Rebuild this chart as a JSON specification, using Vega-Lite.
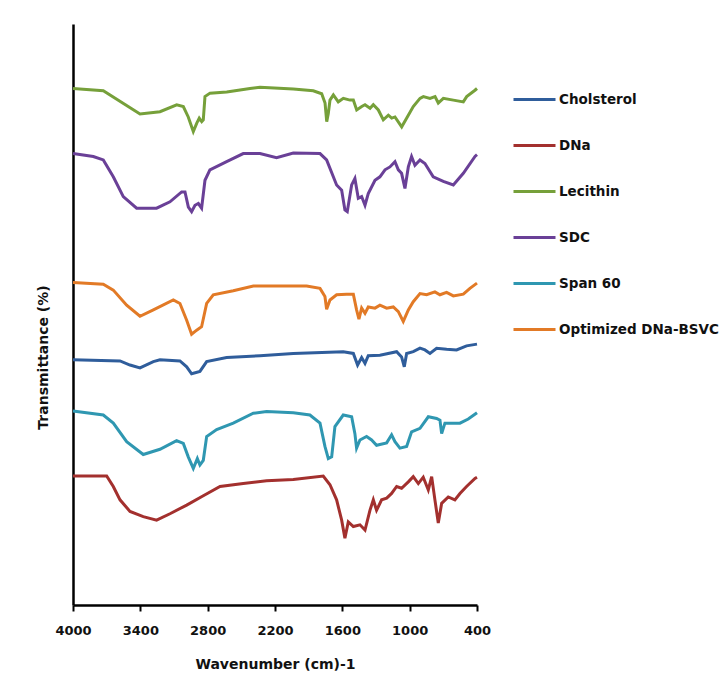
{
  "$schema": "https://vega.github.io/schema/vega-lite/v6.json",
  "width": 404,
  "height": 581,
  "autosize": {"type": "none"},
  "padding": {"left": 73, "top": 24, "right": 243, "bottom": 79},
  "background": "white",
  "config": {
    "view": {"stroke": null},
    "font": "DejaVu Sans"
  },
  "data": {
    "values": [
      {"sample": "Lecithin", "wavenumber": 4000, "transmittance": 88.9},
      {"sample": "Lecithin", "wavenumber": 3730, "transmittance": 88.5},
      {"sample": "Lecithin", "wavenumber": 3403, "transmittance": 84.5},
      {"sample": "Lecithin", "wavenumber": 3225, "transmittance": 84.9},
      {"sample": "Lecithin", "wavenumber": 3076, "transmittance": 86.1},
      {"sample": "Lecithin", "wavenumber": 3017, "transmittance": 85.8},
      {"sample": "Lecithin", "wavenumber": 2973, "transmittance": 84.0},
      {"sample": "Lecithin", "wavenumber": 2928, "transmittance": 81.5},
      {"sample": "Lecithin", "wavenumber": 2898, "transmittance": 82.9},
      {"sample": "Lecithin", "wavenumber": 2875, "transmittance": 83.8},
      {"sample": "Lecithin", "wavenumber": 2853, "transmittance": 83.2},
      {"sample": "Lecithin", "wavenumber": 2839, "transmittance": 83.5},
      {"sample": "Lecithin", "wavenumber": 2824, "transmittance": 87.5},
      {"sample": "Lecithin", "wavenumber": 2779, "transmittance": 88.1},
      {"sample": "Lecithin", "wavenumber": 2630, "transmittance": 88.3},
      {"sample": "Lecithin", "wavenumber": 2423, "transmittance": 88.9},
      {"sample": "Lecithin", "wavenumber": 2334, "transmittance": 89.1},
      {"sample": "Lecithin", "wavenumber": 2037, "transmittance": 88.8},
      {"sample": "Lecithin", "wavenumber": 1859, "transmittance": 88.5},
      {"sample": "Lecithin", "wavenumber": 1784, "transmittance": 88.0},
      {"sample": "Lecithin", "wavenumber": 1754, "transmittance": 86.4},
      {"sample": "Lecithin", "wavenumber": 1739, "transmittance": 83.2},
      {"sample": "Lecithin", "wavenumber": 1725, "transmittance": 84.6},
      {"sample": "Lecithin", "wavenumber": 1710, "transmittance": 86.9},
      {"sample": "Lecithin", "wavenumber": 1680, "transmittance": 87.8},
      {"sample": "Lecithin", "wavenumber": 1636, "transmittance": 86.6},
      {"sample": "Lecithin", "wavenumber": 1591, "transmittance": 87.2},
      {"sample": "Lecithin", "wavenumber": 1532, "transmittance": 86.9},
      {"sample": "Lecithin", "wavenumber": 1502, "transmittance": 86.9},
      {"sample": "Lecithin", "wavenumber": 1472, "transmittance": 85.2},
      {"sample": "Lecithin", "wavenumber": 1427, "transmittance": 85.8},
      {"sample": "Lecithin", "wavenumber": 1398, "transmittance": 86.1},
      {"sample": "Lecithin", "wavenumber": 1353, "transmittance": 85.5},
      {"sample": "Lecithin", "wavenumber": 1324, "transmittance": 86.1},
      {"sample": "Lecithin", "wavenumber": 1279, "transmittance": 85.2},
      {"sample": "Lecithin", "wavenumber": 1235, "transmittance": 83.5},
      {"sample": "Lecithin", "wavenumber": 1190, "transmittance": 84.3},
      {"sample": "Lecithin", "wavenumber": 1160, "transmittance": 83.8},
      {"sample": "Lecithin", "wavenumber": 1131, "transmittance": 84.0},
      {"sample": "Lecithin", "wavenumber": 1071, "transmittance": 82.3},
      {"sample": "Lecithin", "wavenumber": 1026, "transmittance": 83.8},
      {"sample": "Lecithin", "wavenumber": 968, "transmittance": 85.8},
      {"sample": "Lecithin", "wavenumber": 908, "transmittance": 87.2},
      {"sample": "Lecithin", "wavenumber": 878, "transmittance": 87.5},
      {"sample": "Lecithin", "wavenumber": 819, "transmittance": 87.2},
      {"sample": "Lecithin", "wavenumber": 774, "transmittance": 87.5},
      {"sample": "Lecithin", "wavenumber": 745, "transmittance": 86.4},
      {"sample": "Lecithin", "wavenumber": 700, "transmittance": 87.2},
      {"sample": "Lecithin", "wavenumber": 611, "transmittance": 86.9},
      {"sample": "Lecithin", "wavenumber": 522, "transmittance": 86.6},
      {"sample": "Lecithin", "wavenumber": 492, "transmittance": 87.5},
      {"sample": "Lecithin", "wavenumber": 418, "transmittance": 88.6},
      {"sample": "Lecithin", "wavenumber": 400, "transmittance": 88.9},

      {"sample": "SDC", "wavenumber": 4000, "transmittance": 77.7},
      {"sample": "SDC", "wavenumber": 3819, "transmittance": 77.2},
      {"sample": "SDC", "wavenumber": 3730, "transmittance": 76.6},
      {"sample": "SDC", "wavenumber": 3641, "transmittance": 73.7},
      {"sample": "SDC", "wavenumber": 3552, "transmittance": 70.3},
      {"sample": "SDC", "wavenumber": 3433, "transmittance": 68.3},
      {"sample": "SDC", "wavenumber": 3255, "transmittance": 68.3},
      {"sample": "SDC", "wavenumber": 3136, "transmittance": 69.4},
      {"sample": "SDC", "wavenumber": 3032, "transmittance": 71.1},
      {"sample": "SDC", "wavenumber": 3002, "transmittance": 71.1},
      {"sample": "SDC", "wavenumber": 2972, "transmittance": 68.5},
      {"sample": "SDC", "wavenumber": 2943, "transmittance": 67.7},
      {"sample": "SDC", "wavenumber": 2913, "transmittance": 68.8},
      {"sample": "SDC", "wavenumber": 2883, "transmittance": 69.1},
      {"sample": "SDC", "wavenumber": 2854, "transmittance": 68.3},
      {"sample": "SDC", "wavenumber": 2824, "transmittance": 73.1},
      {"sample": "SDC", "wavenumber": 2780, "transmittance": 74.9},
      {"sample": "SDC", "wavenumber": 2631, "transmittance": 76.3},
      {"sample": "SDC", "wavenumber": 2483, "transmittance": 77.7},
      {"sample": "SDC", "wavenumber": 2334, "transmittance": 77.7},
      {"sample": "SDC", "wavenumber": 2186, "transmittance": 77.0},
      {"sample": "SDC", "wavenumber": 2037, "transmittance": 77.8},
      {"sample": "SDC", "wavenumber": 1799, "transmittance": 77.7},
      {"sample": "SDC", "wavenumber": 1740, "transmittance": 76.6},
      {"sample": "SDC", "wavenumber": 1651, "transmittance": 72.3},
      {"sample": "SDC", "wavenumber": 1606, "transmittance": 71.4},
      {"sample": "SDC", "wavenumber": 1577, "transmittance": 68.0},
      {"sample": "SDC", "wavenumber": 1556, "transmittance": 67.7},
      {"sample": "SDC", "wavenumber": 1517, "transmittance": 72.3},
      {"sample": "SDC", "wavenumber": 1488, "transmittance": 73.4},
      {"sample": "SDC", "wavenumber": 1458, "transmittance": 70.0},
      {"sample": "SDC", "wavenumber": 1428, "transmittance": 70.3},
      {"sample": "SDC", "wavenumber": 1398, "transmittance": 68.8},
      {"sample": "SDC", "wavenumber": 1369, "transmittance": 70.8},
      {"sample": "SDC", "wavenumber": 1309, "transmittance": 73.1},
      {"sample": "SDC", "wavenumber": 1265, "transmittance": 73.7},
      {"sample": "SDC", "wavenumber": 1220, "transmittance": 74.9},
      {"sample": "SDC", "wavenumber": 1176, "transmittance": 75.4},
      {"sample": "SDC", "wavenumber": 1131, "transmittance": 76.3},
      {"sample": "SDC", "wavenumber": 1101, "transmittance": 74.9},
      {"sample": "SDC", "wavenumber": 1072, "transmittance": 74.3},
      {"sample": "SDC", "wavenumber": 1042, "transmittance": 71.7},
      {"sample": "SDC", "wavenumber": 1012, "transmittance": 75.4},
      {"sample": "SDC", "wavenumber": 983, "transmittance": 77.2},
      {"sample": "SDC", "wavenumber": 953, "transmittance": 75.7},
      {"sample": "SDC", "wavenumber": 908, "transmittance": 76.6},
      {"sample": "SDC", "wavenumber": 864, "transmittance": 76.0},
      {"sample": "SDC", "wavenumber": 790, "transmittance": 73.7},
      {"sample": "SDC", "wavenumber": 700, "transmittance": 72.9},
      {"sample": "SDC", "wavenumber": 611, "transmittance": 72.3},
      {"sample": "SDC", "wavenumber": 522, "transmittance": 74.3},
      {"sample": "SDC", "wavenumber": 418, "transmittance": 77.2},
      {"sample": "SDC", "wavenumber": 400, "transmittance": 77.5},

      {"sample": "Optimized DNa-BSVC", "wavenumber": 4000, "transmittance": 55.5},
      {"sample": "Optimized DNa-BSVC", "wavenumber": 3730, "transmittance": 55.2},
      {"sample": "Optimized DNa-BSVC", "wavenumber": 3641, "transmittance": 54.2},
      {"sample": "Optimized DNa-BSVC", "wavenumber": 3522, "transmittance": 51.6},
      {"sample": "Optimized DNa-BSVC", "wavenumber": 3403, "transmittance": 49.7},
      {"sample": "Optimized DNa-BSVC", "wavenumber": 3284, "transmittance": 50.8},
      {"sample": "Optimized DNa-BSVC", "wavenumber": 3106, "transmittance": 52.5},
      {"sample": "Optimized DNa-BSVC", "wavenumber": 3047, "transmittance": 51.9},
      {"sample": "Optimized DNa-BSVC", "wavenumber": 2987, "transmittance": 49.0},
      {"sample": "Optimized DNa-BSVC", "wavenumber": 2943, "transmittance": 46.6},
      {"sample": "Optimized DNa-BSVC", "wavenumber": 2898, "transmittance": 47.3},
      {"sample": "Optimized DNa-BSVC", "wavenumber": 2854, "transmittance": 47.9},
      {"sample": "Optimized DNa-BSVC", "wavenumber": 2809, "transmittance": 51.9},
      {"sample": "Optimized DNa-BSVC", "wavenumber": 2750, "transmittance": 53.4},
      {"sample": "Optimized DNa-BSVC", "wavenumber": 2572, "transmittance": 54.1},
      {"sample": "Optimized DNa-BSVC", "wavenumber": 2393, "transmittance": 54.9},
      {"sample": "Optimized DNa-BSVC", "wavenumber": 1918, "transmittance": 54.9},
      {"sample": "Optimized DNa-BSVC", "wavenumber": 1799, "transmittance": 54.5},
      {"sample": "Optimized DNa-BSVC", "wavenumber": 1755, "transmittance": 53.1},
      {"sample": "Optimized DNa-BSVC", "wavenumber": 1740, "transmittance": 50.9},
      {"sample": "Optimized DNa-BSVC", "wavenumber": 1710, "transmittance": 52.5},
      {"sample": "Optimized DNa-BSVC", "wavenumber": 1651, "transmittance": 53.4},
      {"sample": "Optimized DNa-BSVC", "wavenumber": 1562, "transmittance": 53.5},
      {"sample": "Optimized DNa-BSVC", "wavenumber": 1502, "transmittance": 53.5},
      {"sample": "Optimized DNa-BSVC", "wavenumber": 1473, "transmittance": 50.8},
      {"sample": "Optimized DNa-BSVC", "wavenumber": 1452, "transmittance": 49.2},
      {"sample": "Optimized DNa-BSVC", "wavenumber": 1428, "transmittance": 51.1},
      {"sample": "Optimized DNa-BSVC", "wavenumber": 1398, "transmittance": 50.2},
      {"sample": "Optimized DNa-BSVC", "wavenumber": 1369, "transmittance": 51.3},
      {"sample": "Optimized DNa-BSVC", "wavenumber": 1309, "transmittance": 51.1},
      {"sample": "Optimized DNa-BSVC", "wavenumber": 1265, "transmittance": 51.6},
      {"sample": "Optimized DNa-BSVC", "wavenumber": 1205, "transmittance": 51.1},
      {"sample": "Optimized DNa-BSVC", "wavenumber": 1146, "transmittance": 51.3},
      {"sample": "Optimized DNa-BSVC", "wavenumber": 1101, "transmittance": 50.5},
      {"sample": "Optimized DNa-BSVC", "wavenumber": 1057, "transmittance": 48.8},
      {"sample": "Optimized DNa-BSVC", "wavenumber": 1012, "transmittance": 50.8},
      {"sample": "Optimized DNa-BSVC", "wavenumber": 968, "transmittance": 52.2},
      {"sample": "Optimized DNa-BSVC", "wavenumber": 908, "transmittance": 53.6},
      {"sample": "Optimized DNa-BSVC", "wavenumber": 849, "transmittance": 53.4},
      {"sample": "Optimized DNa-BSVC", "wavenumber": 775, "transmittance": 53.9},
      {"sample": "Optimized DNa-BSVC", "wavenumber": 730, "transmittance": 53.4},
      {"sample": "Optimized DNa-BSVC", "wavenumber": 671, "transmittance": 53.8},
      {"sample": "Optimized DNa-BSVC", "wavenumber": 611, "transmittance": 53.2},
      {"sample": "Optimized DNa-BSVC", "wavenumber": 522, "transmittance": 53.5},
      {"sample": "Optimized DNa-BSVC", "wavenumber": 463, "transmittance": 54.5},
      {"sample": "Optimized DNa-BSVC", "wavenumber": 400, "transmittance": 55.4},

      {"sample": "Cholsterol", "wavenumber": 4000, "transmittance": 42.2},
      {"sample": "Cholsterol", "wavenumber": 3581, "transmittance": 42.0},
      {"sample": "Cholsterol", "wavenumber": 3492, "transmittance": 41.3},
      {"sample": "Cholsterol", "wavenumber": 3403, "transmittance": 40.8},
      {"sample": "Cholsterol", "wavenumber": 3284, "transmittance": 41.9},
      {"sample": "Cholsterol", "wavenumber": 3225, "transmittance": 42.2},
      {"sample": "Cholsterol", "wavenumber": 3047, "transmittance": 42.0},
      {"sample": "Cholsterol", "wavenumber": 2987, "transmittance": 41.0},
      {"sample": "Cholsterol", "wavenumber": 2943, "transmittance": 39.8},
      {"sample": "Cholsterol", "wavenumber": 2869, "transmittance": 40.2},
      {"sample": "Cholsterol", "wavenumber": 2809, "transmittance": 41.9},
      {"sample": "Cholsterol", "wavenumber": 2631, "transmittance": 42.6},
      {"sample": "Cholsterol", "wavenumber": 2334, "transmittance": 42.9},
      {"sample": "Cholsterol", "wavenumber": 2037, "transmittance": 43.3},
      {"sample": "Cholsterol", "wavenumber": 1592, "transmittance": 43.6},
      {"sample": "Cholsterol", "wavenumber": 1502, "transmittance": 43.3},
      {"sample": "Cholsterol", "wavenumber": 1464, "transmittance": 41.3},
      {"sample": "Cholsterol", "wavenumber": 1428, "transmittance": 42.6},
      {"sample": "Cholsterol", "wavenumber": 1398, "transmittance": 41.6},
      {"sample": "Cholsterol", "wavenumber": 1369, "transmittance": 42.9},
      {"sample": "Cholsterol", "wavenumber": 1265, "transmittance": 43.0},
      {"sample": "Cholsterol", "wavenumber": 1116, "transmittance": 43.6},
      {"sample": "Cholsterol", "wavenumber": 1072, "transmittance": 42.7},
      {"sample": "Cholsterol", "wavenumber": 1048, "transmittance": 41.0},
      {"sample": "Cholsterol", "wavenumber": 1027, "transmittance": 43.3},
      {"sample": "Cholsterol", "wavenumber": 968, "transmittance": 43.6},
      {"sample": "Cholsterol", "wavenumber": 908, "transmittance": 44.2},
      {"sample": "Cholsterol", "wavenumber": 864, "transmittance": 43.9},
      {"sample": "Cholsterol", "wavenumber": 819, "transmittance": 43.3},
      {"sample": "Cholsterol", "wavenumber": 760, "transmittance": 44.2},
      {"sample": "Cholsterol", "wavenumber": 671, "transmittance": 44.0},
      {"sample": "Cholsterol", "wavenumber": 582, "transmittance": 43.9},
      {"sample": "Cholsterol", "wavenumber": 493, "transmittance": 44.6},
      {"sample": "Cholsterol", "wavenumber": 400, "transmittance": 44.9},

      {"sample": "Span 60", "wavenumber": 4000, "transmittance": 33.4},
      {"sample": "Span 60", "wavenumber": 3730, "transmittance": 32.7},
      {"sample": "Span 60", "wavenumber": 3641, "transmittance": 31.3},
      {"sample": "Span 60", "wavenumber": 3522, "transmittance": 28.1},
      {"sample": "Span 60", "wavenumber": 3374, "transmittance": 25.9},
      {"sample": "Span 60", "wavenumber": 3225, "transmittance": 26.8},
      {"sample": "Span 60", "wavenumber": 3077, "transmittance": 28.3},
      {"sample": "Span 60", "wavenumber": 3017, "transmittance": 27.8},
      {"sample": "Span 60", "wavenumber": 2973, "transmittance": 25.5},
      {"sample": "Span 60", "wavenumber": 2928, "transmittance": 23.5},
      {"sample": "Span 60", "wavenumber": 2892, "transmittance": 25.2},
      {"sample": "Span 60", "wavenumber": 2869, "transmittance": 24.1},
      {"sample": "Span 60", "wavenumber": 2839, "transmittance": 24.9},
      {"sample": "Span 60", "wavenumber": 2809, "transmittance": 29.0},
      {"sample": "Span 60", "wavenumber": 2720, "transmittance": 30.2},
      {"sample": "Span 60", "wavenumber": 2572, "transmittance": 31.3},
      {"sample": "Span 60", "wavenumber": 2393, "transmittance": 33.0},
      {"sample": "Span 60", "wavenumber": 2275, "transmittance": 33.3},
      {"sample": "Span 60", "wavenumber": 2037, "transmittance": 33.1},
      {"sample": "Span 60", "wavenumber": 1889, "transmittance": 32.7},
      {"sample": "Span 60", "wavenumber": 1799, "transmittance": 31.3},
      {"sample": "Span 60", "wavenumber": 1755, "transmittance": 27.3},
      {"sample": "Span 60", "wavenumber": 1725, "transmittance": 25.2},
      {"sample": "Span 60", "wavenumber": 1695, "transmittance": 25.5},
      {"sample": "Span 60", "wavenumber": 1666, "transmittance": 30.7},
      {"sample": "Span 60", "wavenumber": 1592, "transmittance": 32.7},
      {"sample": "Span 60", "wavenumber": 1517, "transmittance": 32.4},
      {"sample": "Span 60", "wavenumber": 1488, "transmittance": 29.5},
      {"sample": "Span 60", "wavenumber": 1473, "transmittance": 27.0},
      {"sample": "Span 60", "wavenumber": 1443, "transmittance": 28.4},
      {"sample": "Span 60", "wavenumber": 1384, "transmittance": 29.0},
      {"sample": "Span 60", "wavenumber": 1339, "transmittance": 28.4},
      {"sample": "Span 60", "wavenumber": 1295, "transmittance": 27.5},
      {"sample": "Span 60", "wavenumber": 1205, "transmittance": 27.9},
      {"sample": "Span 60", "wavenumber": 1161, "transmittance": 29.3},
      {"sample": "Span 60", "wavenumber": 1131, "transmittance": 28.1},
      {"sample": "Span 60", "wavenumber": 1087, "transmittance": 27.0},
      {"sample": "Span 60", "wavenumber": 1027, "transmittance": 27.3},
      {"sample": "Span 60", "wavenumber": 983, "transmittance": 29.8},
      {"sample": "Span 60", "wavenumber": 908, "transmittance": 30.4},
      {"sample": "Span 60", "wavenumber": 834, "transmittance": 32.4},
      {"sample": "Span 60", "wavenumber": 760, "transmittance": 32.1},
      {"sample": "Span 60", "wavenumber": 730, "transmittance": 31.8},
      {"sample": "Span 60", "wavenumber": 715, "transmittance": 29.5},
      {"sample": "Span 60", "wavenumber": 686, "transmittance": 31.3},
      {"sample": "Span 60", "wavenumber": 552, "transmittance": 31.3},
      {"sample": "Span 60", "wavenumber": 478, "transmittance": 32.0},
      {"sample": "Span 60", "wavenumber": 400, "transmittance": 33.1},

      {"sample": "DNa", "wavenumber": 4000, "transmittance": 22.2},
      {"sample": "DNa", "wavenumber": 3700, "transmittance": 22.2},
      {"sample": "DNa", "wavenumber": 3641, "transmittance": 20.4},
      {"sample": "DNa", "wavenumber": 3581, "transmittance": 18.1},
      {"sample": "DNa", "wavenumber": 3492, "transmittance": 16.1},
      {"sample": "DNa", "wavenumber": 3374, "transmittance": 15.2},
      {"sample": "DNa", "wavenumber": 3255, "transmittance": 14.6},
      {"sample": "DNa", "wavenumber": 3136, "transmittance": 15.7},
      {"sample": "DNa", "wavenumber": 2987, "transmittance": 17.2},
      {"sample": "DNa", "wavenumber": 2839, "transmittance": 18.8},
      {"sample": "DNa", "wavenumber": 2690, "transmittance": 20.4},
      {"sample": "DNa", "wavenumber": 2483, "transmittance": 20.9},
      {"sample": "DNa", "wavenumber": 2275, "transmittance": 21.4},
      {"sample": "DNa", "wavenumber": 2037, "transmittance": 21.6},
      {"sample": "DNa", "wavenumber": 1770, "transmittance": 22.2},
      {"sample": "DNa", "wavenumber": 1710, "transmittance": 20.7},
      {"sample": "DNa", "wavenumber": 1651, "transmittance": 18.1},
      {"sample": "DNa", "wavenumber": 1606, "transmittance": 14.6},
      {"sample": "DNa", "wavenumber": 1577, "transmittance": 11.5},
      {"sample": "DNa", "wavenumber": 1547, "transmittance": 14.3},
      {"sample": "DNa", "wavenumber": 1502, "transmittance": 13.5},
      {"sample": "DNa", "wavenumber": 1443, "transmittance": 13.8},
      {"sample": "DNa", "wavenumber": 1398, "transmittance": 12.9},
      {"sample": "DNa", "wavenumber": 1354, "transmittance": 16.3},
      {"sample": "DNa", "wavenumber": 1324, "transmittance": 18.1},
      {"sample": "DNa", "wavenumber": 1295, "transmittance": 16.3},
      {"sample": "DNa", "wavenumber": 1250, "transmittance": 18.1},
      {"sample": "DNa", "wavenumber": 1205, "transmittance": 18.4},
      {"sample": "DNa", "wavenumber": 1161, "transmittance": 19.2},
      {"sample": "DNa", "wavenumber": 1116, "transmittance": 20.4},
      {"sample": "DNa", "wavenumber": 1072, "transmittance": 20.1},
      {"sample": "DNa", "wavenumber": 1012, "transmittance": 21.2},
      {"sample": "DNa", "wavenumber": 968, "transmittance": 22.1},
      {"sample": "DNa", "wavenumber": 923, "transmittance": 20.9},
      {"sample": "DNa", "wavenumber": 879, "transmittance": 22.0},
      {"sample": "DNa", "wavenumber": 834, "transmittance": 19.8},
      {"sample": "DNa", "wavenumber": 804, "transmittance": 22.1},
      {"sample": "DNa", "wavenumber": 775, "transmittance": 18.1},
      {"sample": "DNa", "wavenumber": 745, "transmittance": 14.1},
      {"sample": "DNa", "wavenumber": 715, "transmittance": 17.5},
      {"sample": "DNa", "wavenumber": 656, "transmittance": 18.6},
      {"sample": "DNa", "wavenumber": 597, "transmittance": 18.1},
      {"sample": "DNa", "wavenumber": 552, "transmittance": 19.2},
      {"sample": "DNa", "wavenumber": 493, "transmittance": 20.4},
      {"sample": "DNa", "wavenumber": 418, "transmittance": 21.8},
      {"sample": "DNa", "wavenumber": 400, "transmittance": 22.0}
    ]
  },
  "mark": {"type": "line", "strokeWidth": 3, "interpolate": "linear"},
  "encoding": {
    "x": {
      "field": "wavenumber",
      "type": "quantitative",
      "scale": {"domain": [400, 4000], "reverse": true, "nice": false, "zero": false},
      "axis": {
        "title": "Wavenumber (cm)-1",
        "values": [4000, 3400, 2800, 2200, 1600, 1000, 400],
        "format": "d",
        "grid": false,
        "domainColor": "#000000",
        "domainWidth": 2.5,
        "tickColor": "#000000",
        "tickWidth": 2,
        "tickSize": 6,
        "labelFont": "DejaVu Sans",
        "labelFontSize": 13,
        "labelFontWeight": "bold",
        "labelColor": "#111111",
        "labelPadding": 13,
        "labelFlush": false,
        "titleFont": "DejaVu Sans",
        "titleFontSize": 14,
        "titleFontWeight": "bold",
        "titleColor": "#111111",
        "titleBaseline": "middle",
        "titleY": 59
      }
    },
    "y": {
      "field": "transmittance",
      "type": "quantitative",
      "scale": {"domain": [0, 100], "nice": false},
      "axis": {
        "title": "Transmittance  (%)",
        "labels": false,
        "ticks": false,
        "grid": false,
        "domainColor": "#000000",
        "domainWidth": 2.5,
        "titleFont": "DejaVu Sans",
        "titleFontSize": 14,
        "titleFontWeight": "bold",
        "titleColor": "#111111",
        "titleAngle": -90,
        "titleAlign": "center",
        "titleBaseline": "middle",
        "titleX": -30,
        "titleY": 333
      }
    },
    "color": {
      "field": "sample",
      "type": "nominal",
      "scale": {
        "domain": ["Cholsterol", "DNa", "Lecithin", "SDC", "Span 60", "Optimized DNa-BSVC"],
        "range": ["#2f5d9b", "#a3302e", "#76a03a", "#6a4097", "#2f97b1", "#e27a26"]
      },
      "legend": {
        "title": null,
        "orient": "none",
        "legendX": 439,
        "legendY": 53,
        "padding": 0,
        "symbolType": "stroke",
        "symbolSize": 1764,
        "symbolStrokeWidth": 3,
        "rowPadding": 17,
        "labelOffset": 2,
        "labelLimit": 0,
        "labelFont": "DejaVu Sans",
        "labelFontSize": 13.5,
        "labelFontWeight": "bold",
        "labelColor": "#111111"
      }
    }
  }
}
